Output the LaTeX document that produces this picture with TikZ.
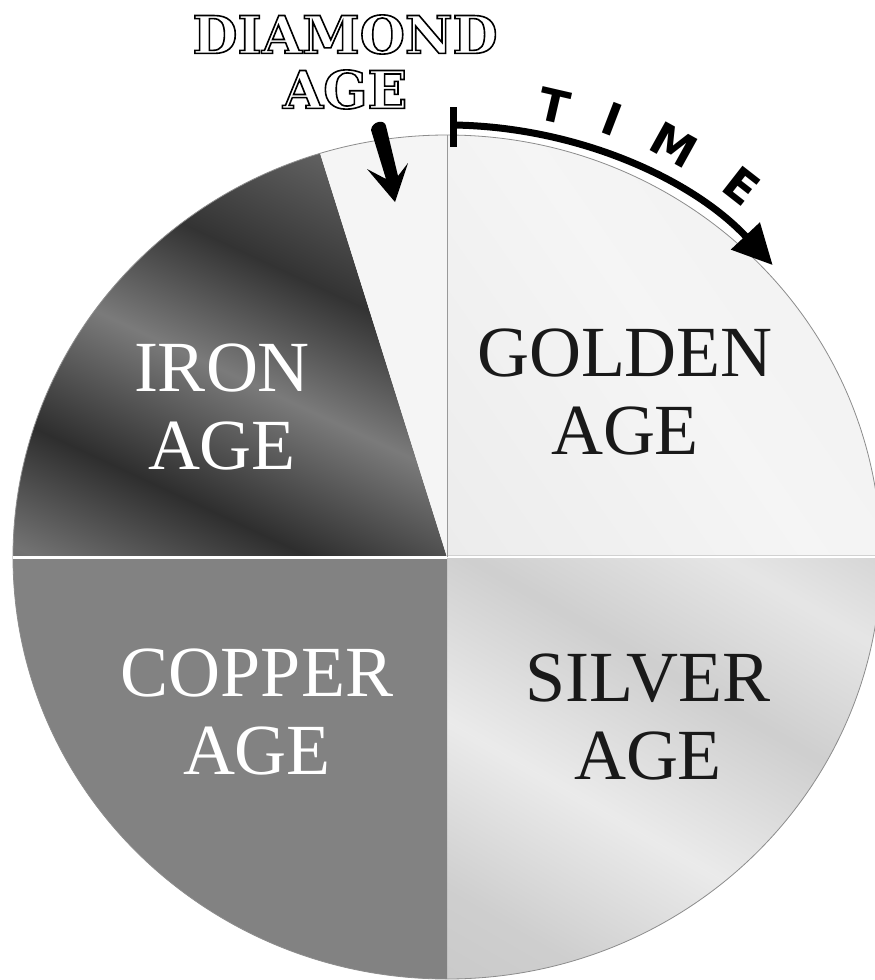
\documentclass[tikz,border=0pt]{standalone}
\usepackage{fontspec}
\setmainfont{Liberation Serif}
\newfontfamily\timefont{DejaVu Sans}
\newfontfamily\diamfont{DejaVu Serif}
\usetikzlibrary{arrows.meta}
\newcommand\hollowtext[1]{\special{pdf:literal direct 1 Tr 1.6 w}#1\special{pdf:literal direct 0 Tr}}
\pgfdeclarehorizontalshading{ironsh}{100bp}{color(0bp)=(black!72); color(18bp)=(black!55); color(32bp)=(black!82); color(48bp)=(black!52); color(62bp)=(black!80); color(80bp)=(black!58); color(100bp)=(black!76)}
\pgfdeclarehorizontalshading{silversh}{100bp}{color(0bp)=(black!24); color(25bp)=(black!19); color(42bp)=(black!8); color(60bp)=(black!19); color(75bp)=(black!10); color(90bp)=(black!20); color(100bp)=(black!14)}
\pgfdeclarehorizontalshading{goldsh}{100bp}{color(0bp)=(black!9); color(50bp)=(black!4); color(100bp)=(black!7)}
\tikzset{
  lab/.style={font=\fontsize{72}{78}\selectfont, align=center, inner sep=0pt},
  timeletter/.style={font=\timefont\bfseries\fontsize{45}{45}\selectfont, inner sep=0pt},
  diamtext/.style={font=\diamfont\bfseries\fontsize{52}{55}\selectfont, align=center, inner sep=0pt},
  rim/.style={draw=black!45, line width=0.8},
  ell/.style={x radius=434, y radius=422},
}
\begin{document}
\begin{tikzpicture}[x=1pt,y=-1pt]
\useasboundingbox (0,0) rectangle (875,980);
\fill[white] (0,0) rectangle (875,980);
\coordinate (C) at (447,557);
\coordinate (top) at (447,135);
\coordinate (right) at (881,557);
\coordinate (bottom) at (447,979);
\coordinate (left) at (13,557);
\coordinate (split) at (320.1,153.4);
\begin{scope}
\clip (0,0) rectangle (875,980);
% sectors
\path[shading=goldsh, shading angle=35] (C) -- (top) arc[start angle=-90, end angle=0, ell] -- cycle;
\path[shading=silversh, shading angle=60] (C) -- (right) arc[start angle=0, end angle=90, ell] -- cycle;
\path[fill=black!49] (C) -- (bottom) arc[start angle=90, end angle=180, ell] -- cycle;
\path[shading=ironsh, shading angle=65] (C) -- (left) arc[start angle=180, end angle=253, ell] -- cycle;
\path[fill=black!4] (C) -- (split) arc[start angle=253, end angle=270, ell] -- cycle;
% rim and split lines
\draw[rim] (C) ellipse[ell];
\draw[white, line width=3] (C) -- (left);
\draw[black!18, line width=1] ([yshift=1.5pt]C) -- ([yshift=1.5pt]right);
\draw[white, line width=2.5] (C) -- (right);
\draw[black!40, line width=0.8] (C) -- (top);
\end{scope}
% labels
\node[lab, text=white] (iron) at (222,407) {IRON\\AGE};
\node[lab, text=black!90] (golden) at (625,392) {GOLDEN\\AGE};
\node[lab, text=white] (copper) at (257,712) {COPPER\\AGE};
\node[lab, text=black!90] (silver) at (648,717) {SILVER\\AGE};
% time arrow
\coordinate (tickT) at (453,107);
\coordinate (tickB) at (453,147);
\coordinate (ts) at (453,125);
\draw[line width=7] (tickT) -- (tickB);
\draw[line width=7, -{Triangle[length=40pt, width=38pt]}] (ts) arc[start angle=-89.2, end angle=-42.5, x radius=442, y radius=432];
\node[timeletter, rotate=-13] (tT) at (554,106) {T};
\node[timeletter, rotate=-21] (tI) at (612,119) {I};
\node[timeletter, rotate=-29] (tM) at (674,145) {M};
\node[timeletter, rotate=-38] (tE) at (742,186) {E};
% diamond age
\node[diamtext, text=black] (diamond) at (345,62) {\hollowtext{DIAMOND}\\\hollowtext{AGE}};
% diamond arrow
\fill[black] (371,130) -- (386,179) -- (367,169) -- (395,202) -- (408,163) -- (398,176) -- (386,126) .. controls (385,119) and (372,121) .. (371,130) -- cycle;
\end{tikzpicture}
\end{document}
